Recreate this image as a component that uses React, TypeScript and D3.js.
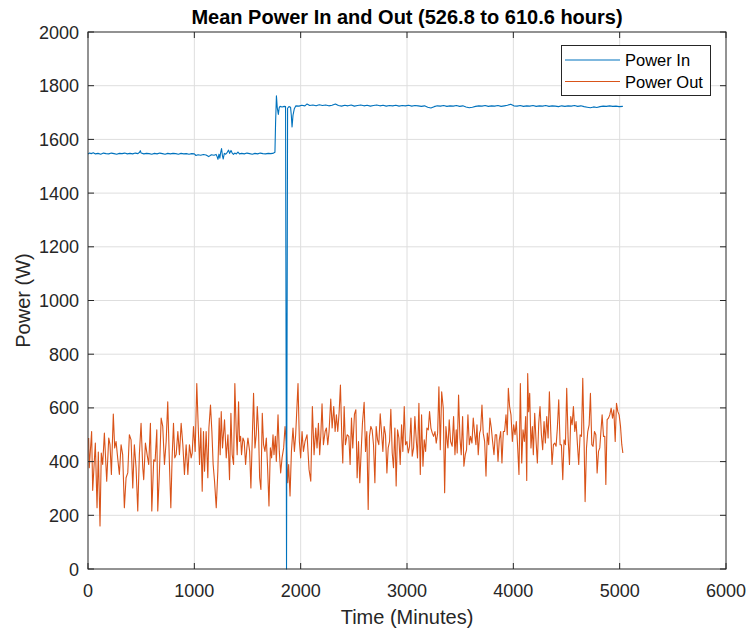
import React from "react";
import * as d3 from "d3";

const TITLE = "Mean Power In and Out (526.8 to 610.6 hours)";
const X_LABEL = "Time (Minutes)";
const Y_LABEL = "Power (W)";
const SERIES_NAMES = ["Power In", "Power Out"];
const X_DOMAIN = [0, 6000];
const Y_DOMAIN = [0, 2000];

// [minutes, watts]
const powerIn: [number, number][] = [
  [0,1546],[15,1549],[30,1547],[50,1550],[70,1546],[95,1548],[120,1545],[145,1549],[170,1547],[195,1546],
  [220,1549],[245,1547],[270,1545],[295,1548],[320,1547],[345,1549],[370,1546],[395,1548],[420,1546],[445,1549],
  [470,1547],[485,1552],[492,1558],[500,1549],[525,1546],[550,1548],[575,1547],[600,1545],[625,1548],[650,1546],
  [675,1549],[700,1547],[725,1545],[750,1548],[775,1546],[800,1548],[825,1547],[850,1545],[875,1548],[900,1546],
  [925,1547],[950,1545],[975,1547],[1000,1546],[1015,1540],[1035,1543],[1060,1541],[1085,1544],[1110,1542],[1135,1536],
  [1160,1543],[1185,1541],[1205,1544],[1215,1535],[1222,1526],[1232,1545],[1240,1530],[1248,1552],[1256,1566],[1264,1540],
  [1272,1527],[1282,1548],[1295,1545],[1310,1552],[1322,1560],[1332,1548],[1345,1559],[1355,1550],[1368,1544],[1380,1549],
  [1395,1546],[1410,1553],[1425,1546],[1445,1548],[1470,1546],[1495,1549],[1520,1547],[1545,1545],[1570,1548],[1595,1546],
  [1620,1549],[1645,1547],[1670,1546],[1695,1548],[1720,1547],[1745,1549],[1758,1552],[1764,1660],[1772,1762],[1780,1718],
  [1790,1693],[1798,1718],[1806,1723],[1825,1721],[1845,1723],[1858,1722],[1867,0],[1877,1716],[1890,1722],[1905,1720],
  [1912,1690],[1919,1646],[1928,1690],[1940,1714],[1955,1725],[1985,1724],[2010,1727],[2040,1725],[2060,1732],[2085,1726],
  [2115,1728],[2145,1725],[2175,1729],[2205,1726],[2235,1728],[2265,1725],[2295,1727],[2327,1732],[2355,1726],[2385,1724],
  [2415,1727],[2445,1725],[2475,1728],[2505,1724],[2535,1726],[2565,1728],[2595,1725],[2625,1727],[2655,1724],[2685,1726],
  [2715,1728],[2745,1725],[2775,1727],[2805,1724],[2835,1726],[2865,1725],[2895,1727],[2925,1724],[2955,1726],[2985,1725],
  [3015,1727],[3045,1724],[3075,1726],[3105,1725],[3135,1723],[3165,1725],[3195,1720],[3225,1717],[3255,1722],[3285,1725],
  [3315,1724],[3345,1726],[3375,1723],[3405,1725],[3435,1724],[3465,1726],[3495,1723],[3525,1725],[3555,1721],[3585,1718],
  [3615,1720],[3645,1723],[3675,1725],[3705,1724],[3735,1726],[3765,1723],[3795,1725],[3825,1724],[3855,1726],[3885,1723],
  [3915,1725],[3945,1727],[3975,1731],[4005,1725],[4035,1724],[4065,1726],[4095,1723],[4125,1725],[4155,1724],[4185,1726],
  [4215,1723],[4245,1725],[4275,1724],[4305,1726],[4335,1723],[4365,1725],[4395,1724],[4425,1722],[4455,1725],[4485,1723],
  [4515,1725],[4545,1724],[4575,1726],[4605,1723],[4635,1725],[4665,1722],[4695,1720],[4725,1718],[4755,1721],[4785,1719],
  [4815,1722],[4845,1724],[4875,1723],[4905,1725],[4935,1723],[4965,1724],[4995,1722],[5030,1723],
];

// [minutes, watts]
const powerOut: [number, number][] = [
  [6,488],[12,377],[34,512],[44,293],[69,469],[85,228],[97,436],[113,160],[125,432],[138,389],
  [154,506],[163,432],[176,327],[195,488],[207,463],[220,352],[238,577],[251,451],[264,475],[279,414],
  [295,352],[311,463],[326,426],[342,228],[358,340],[374,358],[389,500],[405,481],[421,302],[436,463],
  [452,377],[468,216],[483,426],[499,543],[515,377],[524,333],[540,469],[556,426],[571,389],[587,543],
  [600,216],[618,407],[631,401],[647,518],[656,216],[672,364],[688,562],[703,531],[719,389],[735,475],
  [750,623],[766,389],[779,228],[791,414],[804,543],[816,414],[829,426],[845,512],[860,426],[876,543],
  [892,463],[907,352],[923,463],[939,352],[954,463],[970,414],[980,432],[992,531],[1008,438],[1023,691],
  [1036,537],[1049,389],[1061,525],[1074,290],[1086,512],[1096,364],[1111,512],[1127,340],[1137,525],[1152,611],
  [1165,512],[1177,389],[1190,327],[1206,228],[1221,364],[1234,562],[1243,426],[1253,586],[1265,451],[1284,556],
  [1300,414],[1316,500],[1331,333],[1344,580],[1356,426],[1369,389],[1381,691],[1394,512],[1403,426],[1416,623],
  [1425,475],[1435,494],[1444,426],[1457,488],[1469,475],[1482,389],[1494,451],[1504,488],[1520,438],[1532,302],
  [1545,488],[1557,654],[1570,451],[1582,500],[1592,605],[1604,512],[1614,340],[1626,296],[1639,580],[1651,463],
  [1664,438],[1677,488],[1689,377],[1702,235],[1715,451],[1727,414],[1740,500],[1749,426],[1762,494],[1771,401],
  [1787,574],[1799,438],[1812,358],[1825,414],[1840,451],[1853,531],[1865,475],[1878,321],[1887,389],[1900,272],
  [1913,438],[1928,525],[1941,438],[1953,500],[1975,691],[1988,475],[2000,414],[2013,512],[2026,438],[2041,475],
  [2060,500],[2079,370],[2095,327],[2110,605],[2126,426],[2142,525],[2154,451],[2167,543],[2179,426],[2189,494],
  [2201,615],[2214,463],[2230,512],[2242,525],[2255,463],[2267,512],[2283,633],[2296,525],[2311,605],[2324,512],
  [2336,574],[2349,512],[2362,586],[2374,685],[2387,488],[2396,395],[2409,605],[2421,463],[2437,500],[2453,494],
  [2465,389],[2478,562],[2490,451],[2506,577],[2519,593],[2531,340],[2544,475],[2556,321],[2569,438],[2581,543],
  [2597,621],[2610,438],[2622,512],[2635,222],[2647,494],[2660,531],[2672,518],[2685,463],[2698,321],[2710,531],
  [2723,481],[2735,463],[2748,578],[2760,512],[2773,438],[2785,531],[2798,500],[2811,358],[2823,451],[2836,475],
  [2848,595],[2861,432],[2873,377],[2886,525],[2898,309],[2911,518],[2924,488],[2936,389],[2949,537],[2961,438],
  [2974,605],[2986,463],[2999,475],[3012,432],[3024,457],[3037,562],[3049,420],[3062,451],[3074,568],[3087,481],
  [3099,414],[3112,617],[3125,352],[3137,574],[3150,383],[3162,481],[3175,438],[3187,525],[3200,518],[3212,586],
  [3225,525],[3238,506],[3250,494],[3263,512],[3275,469],[3288,506],[3300,679],[3313,444],[3326,660],[3341,599],
  [3354,284],[3366,531],[3379,469],[3385,451],[3397,556],[3410,475],[3425,457],[3438,568],[3451,426],[3463,518],
  [3472,432],[3485,648],[3498,488],[3510,426],[3523,568],[3535,383],[3548,426],[3560,444],[3573,574],[3586,463],
  [3598,494],[3611,469],[3623,562],[3636,506],[3648,463],[3658,537],[3670,426],[3683,506],[3692,518],[3705,611],
  [3717,506],[3730,475],[3743,346],[3755,506],[3768,463],[3780,562],[3793,525],[3805,475],[3818,426],[3830,500],
  [3843,500],[3856,401],[3868,481],[3881,512],[3893,395],[3906,512],[3918,512],[3931,574],[3943,500],[3953,673],
  [3965,605],[3978,574],[3991,475],[4003,537],[4016,500],[4028,549],[4041,451],[4053,352],[4066,691],[4079,395],
  [4091,518],[4104,475],[4116,568],[4126,330],[4135,728],[4144,586],[4154,654],[4166,451],[4179,531],[4188,426],
  [4201,580],[4214,475],[4226,395],[4239,543],[4251,605],[4264,500],[4276,444],[4289,549],[4301,469],[4314,568],
  [4327,488],[4339,660],[4352,512],[4364,389],[4377,463],[4389,469],[4402,457],[4414,525],[4427,630],[4440,463],
  [4452,463],[4465,333],[4477,481],[4490,463],[4502,673],[4515,488],[4528,389],[4540,568],[4553,537],[4565,605],
  [4578,512],[4590,549],[4603,463],[4615,389],[4628,500],[4641,494],[4653,710],[4666,463],[4675,251],[4688,451],
  [4700,512],[4713,537],[4725,654],[4738,463],[4750,457],[4763,512],[4776,500],[4788,358],[4801,438],[4813,451],
  [4826,525],[4835,574],[4848,494],[4860,494],[4870,315],[4882,556],[4895,562],[4907,574],[4920,599],[4933,562],
  [4945,593],[4958,475],[4970,617],[4983,586],[4995,574],[5008,531],[5020,463],[5030,432],
];

const COLORS = ["#0072BD", "#D95319"];
const AXIS = "#262626";
const GRID = "#dedede";
const FONT = "'Liberation Sans', Arial, Helvetica, sans-serif";

export default function App() {
  const W = 747, H = 632;
  const L = 88, R = 726, T = 32, B = 569;
  const x = d3.scaleLinear().domain(X_DOMAIN).range([L, R]);
  const y = d3.scaleLinear().domain(Y_DOMAIN).range([B, T]);
  const line = d3.line<[number, number]>().x(d => x(d[0])).y(d => y(d[1]));
  const xt = x.ticks(6);
  const yt = y.ticks(10);
  const tick = 6;

  return (
    <svg width={W} height={H} style={{ position: "absolute", left: 0, top: 0, background: "#fff" }}>
      <rect x={0} y={0} width={W} height={H} fill="#fff" />
      {/* grid */}
      {xt.filter(t => t > X_DOMAIN[0] && t < X_DOMAIN[1]).map(t => (
        <line key={"gx" + t} x1={x(t)} x2={x(t)} y1={T} y2={B} stroke={GRID} strokeWidth={1} />
      ))}
      {yt.filter(t => t > Y_DOMAIN[0] && t < Y_DOMAIN[1]).map(t => (
        <line key={"gy" + t} x1={L} x2={R} y1={y(t)} y2={y(t)} stroke={GRID} strokeWidth={1} />
      ))}
      {/* series */}
      <path d={line(powerOut) || ""} fill="none" stroke={COLORS[1]} strokeWidth={1.1} strokeLinejoin="round" />
      <path d={line(powerIn) || ""} fill="none" stroke={COLORS[0]} strokeWidth={1.1} strokeLinejoin="round" />
      {/* box */}
      <rect x={L} y={T} width={R - L} height={B - T} fill="none" stroke={AXIS} strokeWidth={1} />
      {/* ticks */}
      {xt.map(t => (
        <g key={"tx" + t}>
          <line x1={x(t)} x2={x(t)} y1={B} y2={B - tick} stroke={AXIS} />
          <line x1={x(t)} x2={x(t)} y1={T} y2={T + tick} stroke={AXIS} />
          <text x={x(t)} y={597} textAnchor="middle" fontFamily={FONT} fontSize={18} fill={AXIS}>{t}</text>
        </g>
      ))}
      {yt.map(t => (
        <g key={"ty" + t}>
          <line x1={L} x2={L + tick} y1={y(t)} y2={y(t)} stroke={AXIS} />
          <line x1={R} x2={R - tick} y1={y(t)} y2={y(t)} stroke={AXIS} />
          <text x={79} y={y(t) + 6.5} textAnchor="end" fontFamily={FONT} fontSize={18} fill={AXIS}>{t}</text>
        </g>
      ))}
      {/* labels */}
      <text x={(L + R) / 2} y={24} textAnchor="middle" fontFamily={FONT} fontSize={20} fontWeight="bold" fill="#000">{TITLE}</text>
      <text x={(L + R) / 2} y={624} textAnchor="middle" fontFamily={FONT} fontSize={20} fill={AXIS}>{X_LABEL}</text>
      <text transform={`translate(30,${(T + B) / 2}) rotate(-90)`} textAnchor="middle" fontFamily={FONT} fontSize={20} fill={AXIS}>{Y_LABEL}</text>
      {/* legend */}
      <rect x={561.5} y={45.5} width={149} height={50} fill="#fff" stroke={AXIS} strokeWidth={1} />
      {SERIES_NAMES.map((n, i) => (
        <g key={n}>
          <line x1={565} x2={620} y1={60 + i * 21.5} y2={60 + i * 21.5} stroke={COLORS[i]} strokeWidth={1.1} />
          <text x={625} y={60 + i * 21.5 + 6} fontFamily={FONT} fontSize={16.5} fill="#000">{n}</text>
        </g>
      ))}
    </svg>
  );
}
